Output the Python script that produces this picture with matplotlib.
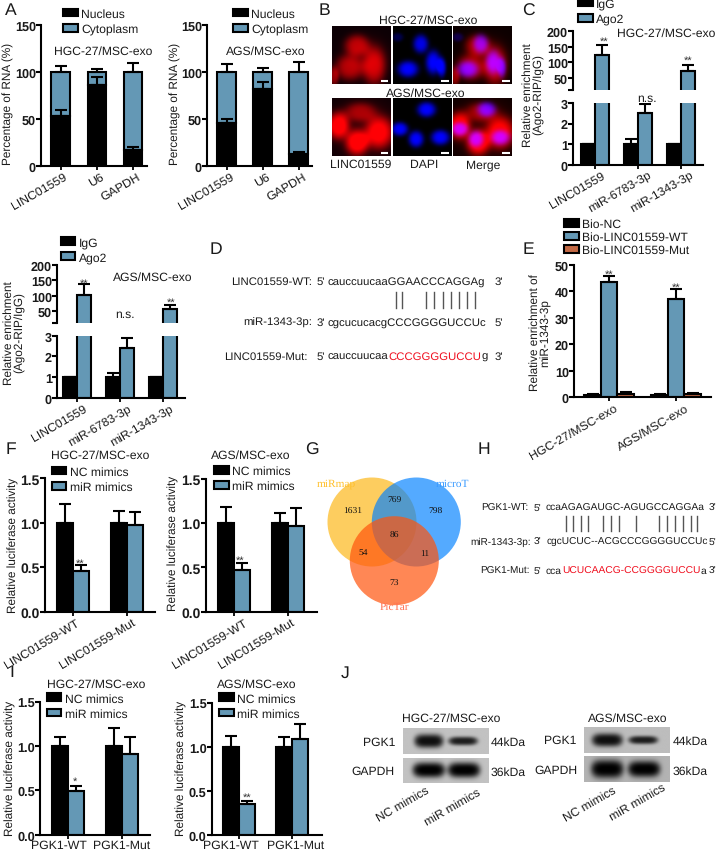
import numpy as np
import matplotlib
matplotlib.use("Agg")
import matplotlib.pyplot as plt
from matplotlib.patches import Circle, Patch
from matplotlib.transforms import ScaledTranslation

W, H = 716, 853
plt.rcParams['font.family'] = ['Liberation Sans', 'DejaVu Sans']
plt.rcParams['text.hinting'] = 'none'
TXT = '#1a1a1a'
BLUE = '#6498B5'
ORANGE = '#C46A45'

# ---------- data ----------
rna_cats = ['LINC01559', 'U6', 'GAPDH']
hgc_nuc = [53, 86, 17]
hgc_nuc_top = [60, 95, 20]
hgc_total_top = [106, 103, 110]
ags_nuc = [46, 82, 13]
ags_nuc_top = [50, 89, 15]
ags_total_top = [108, 104, 111]

rip_cats = ['LINC01559', 'miR-6783-3p', 'miR-1343-3p']
c_igg = [1, 1, 1]
c_igg_top = [1, 1.27, 1]
c_ago = [125, 2.5, 72]
c_ago_top = [155, 2.95, 93]
c2_igg = [1, 1, 1]
c2_igg_top = [1, 1.22, 1]
c2_ago = [103, 2.4, 57]
c2_ago_top = [137, 2.9, 72]

e_cats = ['HGC-27/MSC-exo', 'AGS/MSC-exo']
e_nc = [1.0, 1.0]
e_nc_top = [1.4, 1.3]
e_wt = [43.5, 37]
e_wt_top = [45.6, 41]
e_mut = [1.2, 1.1]
e_mut_top = [1.9, 1.7]

f_cats = ['LINC01559-WT', 'LINC01559-Mut']
f1_nc, f1_nc_top = [1.0, 1.0], [1.21, 1.13]
f1_mi, f1_mi_top = [0.46, 0.98], [0.52, 1.12]
f2_nc, f2_nc_top = [1.0, 1.0], [1.18, 1.12]
f2_mi, f2_mi_top = [0.47, 0.97], [0.55, 1.17]

i_cats = ['PGK1-WT', 'PGK1-Mut']
i1_nc, i1_nc_top = [1.0, 1.0], [1.10, 1.20]
i1_mi, i1_mi_top = [0.49, 0.91], [0.55, 1.10]
i2_nc, i2_nc_top = [1.0, 1.0], [1.13, 1.12]
i2_mi, i2_mi_top = [0.35, 1.09], [0.39, 1.26]

venn_counts = ['1631', '769', '798', '86', '54', '11', '73']
venn_names = ['miRmap', 'microT', 'PicTar']

# microscopy blobs: (cx, cy, rx, ry, amp) on a 175 x 173 field
row1_red = [(74, 58, 36, 32, .62), (52, 123, 42, 38, .62), (124, 118, 34, 56, .72), (6, 150, 14, 28, .5), (100, 90, 70, 60, .12)]
row1_blue = [(82, 53, 22, 27, .9), (44, 128, 30, 24, 1.), (119, 108, 22, 35, 1.), (144, 123, 13, 28, .9), (14, 33, 16, 13, .3)]
row2_red = [(84, 42, 46, 28, .5), (19, 82, 32, 40, .95), (74, 132, 34, 38, .95), (139, 102, 42, 48, .9), (90, 90, 100, 90, .14)]
row2_blue = [(99, 34, 27, 22, 1.), (20, 92, 24, 20, 1.), (68, 122, 22, 24, 1.), (140, 117, 27, 22, 1.)]

# blots: band (centre, half width, half height, darkness) on a 0-1 strip
blot_l_pgk = [(.30, .17, .27, .92), (.70, .17, .17, .85)]
blot_l_gap = [(.30, .19, .30, 1.0), (.71, .19, .30, 1.0)]
blot_r_pgk = [(.27, .18, .26, .92), (.69, .17, .16, .85)]
blot_r_gap = [(.27, .19, .36, 1.0), (.70, .19, .32, 1.0)]

# ---------- helpers ----------
fig = plt.figure(figsize=(W / 100, H / 100), dpi=100, facecolor='white')
ov = fig.add_axes([0, 0, 1, 1], zorder=5)
ov.set_xlim(0, W)
ov.set_ylim(H, 0)
ov.axis('off')
rend = fig.canvas.get_renderer()


def px_axes(l, r, t, b, **kw):
    return fig.add_axes([l / W, 1 - b / H, (r - l) / W, (b - t) / H], **kw)


def style(ax, ysize=9.1, xsize=8.8, xpad=0.6):
    ax.spines[['top', 'right']].set_visible(False)
    ax.spines[['left', 'bottom']].set_linewidth(1.5)
    ax.tick_params(axis='y', length=3.4, width=1.5, color='k', labelsize=ysize, pad=0.3, labelcolor=TXT)
    ax.tick_params(axis='x', length=2.6, width=1.3, color='k', labelsize=xsize, pad=xpad, labelcolor=TXT)


def bold_y(ax):
    for lab in ax.get_yticklabels():
        lab.set_fontweight('bold')


def set_x(ax, l, r, x0, dx, cats=None, rot=30):
    ax.set_xlim((l - x0) / dx, (r - x0) / dx)
    ax.set_xticks(range(len(cats)) if cats else [])
    if cats:
        if rot:
            ax.set_xticklabels(cats, rotation=rot, ha='right', va='top', rotation_mode='anchor')
        else:
            ax.set_xticklabels(cats)


def shift_labels(ax, shifts):
    for lab, s in zip(ax.get_xticklabels(), shifts):
        lab.set_transform(lab.get_transform() + ScaledTranslation(s / 100, 0, fig.dpi_scale_trans))


def errs(ax, x, val, top):
    up = np.array(top, float) - np.array(val, float)
    ax.errorbar(x, val, yerr=[np.zeros_like(up), up], fmt='none', ecolor='k',
                elinewidth=1.5, capsize=4, capthick=1.5, zorder=4)


def legend(ax, x, yc, size=8.7, spacing=.34, handles=None):
    kw = {'handles': handles} if handles else {}
    ax.legend(loc='center left', bbox_to_anchor=(x, yc), bbox_transform=ov.transData,
              frameon=False, fontsize=size, handlelength=1.22, handleheight=.62,
              handletextpad=.28, labelspacing=spacing, borderpad=0, borderaxespad=0,
              labelcolor=TXT, **kw)


def title(ax, txt, x, y, size=8.7):
    ax.set_title(txt, x=x, y=y, transform=ov.transData, ha='left', va='center',
                 fontsize=size, color=TXT)


def ylabel(ax, txt, x, y, size=8.5):
    ax.set_ylabel(txt, fontsize=size, color=TXT, va='center', ha='center',
                  multialignment='center', linespacing=.95)
    ax.yaxis.set_label_coords(x, y, transform=ov.transData)


def t(x, y, s, size=8.7, **kw):
    kw.setdefault('ha', 'center')
    kw.setdefault('va', 'center')
    kw.setdefault('color', TXT)
    return ov.text(x, y, s, fontsize=size, **kw)


def stars(x, y, s='**'):
    t(x, y + 2.0, s, size=8, color='#333333')


def chain(x, y, parts, size):
    for s, col in parts:
        tx = ov.text(x, y, s, fontsize=size, color=col, ha='left', va='center')
        x += tx.get_window_extent(rend).width


# ---------- panel A ----------
def stacked(l, r, x0, dx, nuc, nuc_top, tot_top, lx, ttl, tx, ylx, shifts):
    ax = px_axes(l, r, 26, 167)
    style(ax)
    x = np.arange(3)
    w = 18.5 / dx
    nuc = np.array(nuc, float)
    ax.bar(x, 100 - nuc, w, bottom=nuc, color=BLUE, edgecolor='k', linewidth=1.5, zorder=2)
    ax.bar(x, nuc, w, color='k', edgecolor='k', linewidth=1.5, zorder=3)
    errs(ax, x, nuc, nuc_top)
    errs(ax, x, [100] * 3, tot_top)
    ax.set_ylim(0, 150)
    ax.set_yticks([0, 50, 100, 150])
    set_x(ax, l, r, x0, dx, rna_cats)
    shift_labels(ax, shifts)
    bold_y(ax)
    handles = [Patch(fc='k', ec='k', lw=1.5, label='Nucleus'), Patch(fc=BLUE, ec='k', lw=1.5, label='Cytoplasm')]
    legend(ax, lx, 22.3, handles=handles)
    title(ax, ttl, tx, 52)
    ylabel(ax, 'Percentage of RNA (%)', ylx, 104)


stacked(41, 147, 60.5, 36.3, hgc_nuc, hgc_nuc_top, hgc_total_top, 63, 'HGC-27/MSC-exo', 54, 8, (2.5, 3, 4))
stacked(207, 312, 226.5, 36.0, ags_nuc, ags_nuc_top, ags_total_top, 233, 'AGS/MSC-exo', 226, 175.7, (3.5, 4, 4.5))


# ---------- panel B ----------
def blob_img(blobs, base=0.0):
    yy, xx = np.mgrid[0:173, 0:175]
    out = np.full(yy.shape, base, float)
    for cx, cy, rx, ry, a in blobs:
        d = ((xx - cx) / rx) ** 2 + ((yy - cy) / ry) ** 2
        out += a * np.exp(-d ** 1.6)
    return np.clip(out, 0, 1)


def micro(ax, rgb):
    ax.imshow(rgb, extent=(0, 175, 173, 0), aspect='auto', interpolation='bilinear')
    ax.plot([146, 169], [163, 163], color='white', lw=1.5, solid_capstyle='butt')
    ax.set_xlim(0, 175)
    ax.set_ylim(173, 0)
    ax.axis('off')


for top, bot, rb, bb in [(27.3, 85, row1_red, row1_blue), (99.3, 157.3, row2_red, row2_blue)]:
    R, Bl = blob_img(rb, .05), blob_img(bb)
    Z = np.zeros_like(R)
    xs = [(332, 390.3), (392.7, 451), (453.3, 511.7)]
    imgs = [np.dstack([R, Z, Z + .02]), np.dstack([Z, Z, Bl]),
            np.dstack([np.clip(R * (1 - .25 * Bl) + .08 * Bl, 0, 1), Z, Bl])]
    for (l, r), im in zip(xs, imgs):
        micro(px_axes(l, r, top, bot), im)

t(428, 20.7, 'HGC-27/MSC-exo')
t(426, 94, 'AGS/MSC-exo')
t(361, 165, 'LINC01559')
t(424, 165, 'DAPI')
t(483, 165, 'Merge')


# ---------- panels C ----------
def rip(l, r, x0, igg, igg_top, ago, ago_top, t_up, b_up, t_lo, b_lo, shifts):
    dx = 43.0
    w = 14.0 / dx
    x = np.arange(3)
    up = px_axes(l, r, t_up, b_up)
    lo = px_axes(l, r, t_lo, b_lo)
    y_bottom = 12.8
    for ax in (up, lo):
        style(ax)
        ax.bar(x - w / 2, igg, w, color='k', edgecolor='k', linewidth=1.5, zorder=2, label='IgG')
        ax.bar(x + w / 2, ago, w, color=BLUE, edgecolor='k', linewidth=1.5, zorder=2, label='Ago2')
        errs(ax, x - w / 2, igg, igg_top)
        errs(ax, x + w / 2, ago, ago_top)
    up.set_ylim(y_bottom, 200)
    up.set_yticks([y_bottom, 50, 100, 150, 200])
    up.set_yticklabels(['', '50', '100', '150', '200'])
    up.spines['bottom'].set_visible(False)
    set_x(up, l, r, x0, dx)
    lo.set_ylim(0, 3)
    lo.set_yticks([0, 1, 2, 3])
    set_x(lo, l, r, x0, dx, rip_cats)
    shift_labels(lo, shifts)
    bold_y(up)
    bold_y(lo)
    return up, lo


cu, cl = rip(573, 703, 595, c_igg, c_igg_top, c_ago, c_ago_top, 32, 90.7, 104, 165.7, (6, 10, 9))
legend(cu, 578, 12.2)
title(cu, 'HGC-27/MSC-exo', 616.7, 34)
ylabel(cu, 'Relative enrichment\n(Ago2-RIP/IgG)', 533, 95)
stars(604, 40)
stars(687.7, 59)
t(646.7, 98.7, 'n.s.')

du, dl = rip(57, 185, 77, c2_igg, c2_igg_top, c2_ago, c2_ago_top, 265.7, 324, 336.7, 399, (6, 8, 7))
legend(du, 60.7, 250.7)
title(du, 'AGS/MSC-exo', 113.3, 277.3)
ylabel(du, 'Relative enrichment\n(Ago2-RIP/IgG)', 14, 333)
stars(84.3, 282)
stars(171, 301)
t(125, 315, 'n.s.')

# ---------- panel D ----------
SEQ = 8.2
t(312, 281.7, 'LINC01559-WT:', SEQ, ha='right')
t(316.7, 281.7, "5'", SEQ, ha='left')
t(328, 281.7, 'cauccuucaaGGAACCCAGGAg', SEQ, ha='left')
t(495, 281.7, "3'", SEQ, ha='left')
t(312, 323, 'miR-1343-3p:', SEQ, ha='right')
t(316.7, 323, "3'", SEQ, ha='left')
t(328, 323, 'cgcucucacgCCCGGGGUCCUc', SEQ, ha='left')
t(495, 323, "5'", SEQ, ha='left')
t(308, 356.7, 'LINC01559-Mut:', SEQ, ha='right')
t(316.7, 356.7, "5'", SEQ, ha='left')
chain(328, 356.7, [('cauccuucaa', TXT), ('CCCGGGGUCCU', '#F01020'), ('g', TXT)], SEQ)
t(495, 356.7, "3'", SEQ, ha='left')
for xp in [395.7, 401.7, 426, 434.3, 442.7, 450.7, 459, 467.3, 475.3]:
    ov.plot([xp, xp], [293, 309], color='#555555', lw=1.0)

# ---------- panel E ----------
ax = px_axes(574, 711, 265.7, 398.3)
style(ax)
dx = 67.0
w = 16.5 / dx
x = np.arange(2)
ax.bar(x - w, e_nc, w, color='k', edgecolor='k', linewidth=1.5, zorder=2, label='Bio-NC')
ax.bar(x, e_wt, w, color=BLUE, edgecolor='k', linewidth=1.5, zorder=2, label='Bio-LINC01559-WT')
ax.bar(x + w, e_mut, w, color=ORANGE, edgecolor='k', linewidth=1.5, zorder=2, label='Bio-LINC01559-Mut')
errs(ax, x - w, e_nc, e_nc_top)
errs(ax, x, e_wt, e_wt_top)
errs(ax, x + w, e_mut, e_mut_top)
ax.set_ylim(0, 50)
ax.set_yticks(range(0, 51, 10))
set_x(ax, 574, 711, 609, dx, e_cats)
shift_labels(ax, (5, 9))
bold_y(ax)
legend(ax, 564, 238, spacing=.13)
ylabel(ax, 'Relative enrichment of\nmiR-1343-3p', 540, 333)
stars(609.3, 272.7)
stars(676, 286)


# ---------- panels F / I ----------
def luc(l, r, t_, b_, x0, dx, nc, nc_top, mi, mi_top, cats, rot, lx, lyc, ttl, tx, ty, ylx, yly, shifts, ysize, xpad):
    ax = px_axes(l, r, t_, b_)
    style(ax, ysize=ysize, xpad=xpad)
    w = 16.0 / dx
    x = np.arange(2)
    ax.bar(x - w / 2, nc, w, color='k', edgecolor='k', linewidth=1.5, zorder=2, label='NC mimics')
    ax.bar(x + w / 2, mi, w, color=BLUE, edgecolor='k', linewidth=1.5, zorder=2, label='miR mimics')
    errs(ax, x - w / 2, nc, nc_top)
    errs(ax, x + w / 2, mi, mi_top)
    ax.set_ylim(0, 1.5)
    ax.set_yticks([0, .5, 1, 1.5])
    ax.set_yticklabels(['0.0', '0.5', '1.0', '1.5'])
    set_x(ax, l, r, x0, dx, cats, rot)
    shift_labels(ax, shifts)
    bold_y(ax)
    legend(ax, lx, lyc)
    title(ax, ttl, tx, ty)
    ylabel(ax, 'Relative luciferase activity', ylx, yly)
    return ax


luc(45, 155, 479.3, 612.7, 73, 54, f1_nc, f1_nc_top, f1_mi, f1_mi_top, f_cats, 31, 51.7, 480.3, 'HGC-27/MSC-exo', 50.7, 455.7, 13, 545, (2, 5), 10, 0.6)
luc(205.7, 316.7, 480, 612.7, 234, 54, f2_nc, f2_nc_top, f2_mi, f2_mi_top, f_cats, 31, 214, 479.5, 'AGS/MSC-exo', 210.7, 455.7, 173, 543, (9, 3), 10, 0.6)
luc(40, 150, 702.7, 835.7, 67.5, 54.3, i1_nc, i1_nc_top, i1_mi, i1_mi_top, i_cats, 0, 46.7, 707, 'HGC-27/MSC-exo', 46.7, 684.3, 10, 768, (-9, 0), 9.2, 0.5)
luc(211.7, 322, 704.3, 835.7, 238.8, 53.5, i2_nc, i2_nc_top, i2_mi, i2_mi_top, i_cats, 0, 219.3, 707, 'AGS/MSC-exo', 216.7, 684.3, 181.7, 768, (-8, 3), 9.2, 0.5)
stars(80, 562)
stars(240.3, 559)
stars(75, 780, '*')
stars(246.7, 796)

# ---------- panel G ----------
for (cx, cy, col, al) in [(372, 523, '#FDB81B', .7), (416.3, 523, '#0080FF', .67), (394.3, 561.7, '#FF540D', .7)]:
    ov.add_patch(Circle((cx, cy), 44.5, fc=col, ec='none', alpha=al))
SER = ['Liberation Serif', 'DejaVu Serif']
for (xp, yp), s in zip([(352.3, 511.7), (394.3, 500.7), (435.7, 512), (394.3, 536), (363.3, 553.7), (425, 553.7), (394.3, 584)], venn_counts):
    t(xp, yp, s, 6.8, family=SER, color='#111111')
for (xp, yp), s, col in zip([(336, 484.3), (452.3, 484.3), (394.3, 607.7)], venn_names, ['#FFC02A', '#3A9BFF', '#FF7050']):
    t(xp, yp, s, 8.2, family=SER, color=col)

# ---------- panel H ----------
SQ = 7.4
rows = [(508.7, 'PGK1-WT:', 528.3, "5'", "3'"), (542, 'miR-1343-3p:', 531, "3'", "5'"), (571, 'PGK1-Mut:', 530, "5'", "3'")]
for yp, lab, xr, a, b in rows:
    t(xr, yp, lab, 7.2, ha='right')
    t(534, yp, a, SQ, ha='left')
    t(709, yp, b, SQ, ha='left')
t(546, 508.7, 'ccaAGAGAUGC-AGUGCCAGGAa', SQ, ha='left')
t(546.7, 542, 'cgcUCUC--ACGCCCGGGGUCCUc', 7.3, ha='left')
chain(546, 571, [('cca', TXT), ('UCUCAACG-CCGGGGUCCU', '#F01020'), ('a', TXT)], SQ)
for v in [767, 790, 813, 835, 878, 903, 927, 978, 1048, 1072, 1095, 1120, 1142, 1160]:
    xp = 310 + v / 3
    ov.plot([xp, xp], [517.3, 532], color='#555555', lw=1.0)


# ---------- panel J ----------
def blot(l, r, tp, bt, bands, bg):
    a = px_axes(l, r, tp, bt)
    yy, xx = np.mgrid[0:1:60j, 0:1:200j]
    out = np.full(yy.shape, bg, float)
    for c, hw, hh, dark in bands:
        d = ((xx - c) / hw) ** 4 + ((yy - .5) / hh) ** 2
        out -= dark * np.exp(-d ** 1.5) * bg
    a.imshow(np.clip(out, 0, 1), cmap='gray', vmin=0, vmax=1, extent=(0, 1, 1, 0), aspect='auto', interpolation='bilinear')
    a.axis('off')


blot(402.7, 488.3, 729.3, 755.3, blot_l_pgk, .76)
blot(402.7, 488.3, 758.7, 784.3, blot_l_gap, .76)
blot(584.3, 670, 728, 754, blot_r_pgk, .74)
blot(584.3, 670, 757.3, 783.3, blot_r_gap, .70)
t(401.7, 718.3, 'HGC-27/MSC-exo', ha='left')
t(587.7, 718.3, 'AGS/MSC-exo', ha='left')
for xr, yp, s in [(395, 742.7, 'PGK1'), (395, 771.7, 'GAPDH'), (576.7, 741, 'PGK1'), (577.3, 771, 'GAPDH')]:
    t(xr, yp, s, ha='right')
for xl, yp, s in [(490.7, 743, '44kDa'), (490.7, 772.5, '36kDa'), (672.3, 742, '44kDa'), (672.3, 772, '36kDa')]:
    t(xl, yp, s, ha='left')
for xr, yp, s in [(428, 790, 'NC mimics'), (479.3, 791.7, 'miR mimics'), (615, 790, 'NC mimics'), (665, 786.7, 'miR mimics')]:
    t(xr, yp, s, ha='right', rotation=30, rotation_mode='anchor')

# ---------- panel letters ----------
for s, xp, yp in [('A', 5, 11), ('B', 319, 11), ('C', 521.7, 11), ('D', 210, 250), ('E', 523, 250),
                  ('F', 6, 450), ('G', 305, 450), ('H', 477.7, 450), ('I', 9.3, 673), ('J', 340.7, 673)]:
    t(xp, yp, s, 12.6, ha='left')

fig.savefig('out.png', dpi=100, facecolor='white')
